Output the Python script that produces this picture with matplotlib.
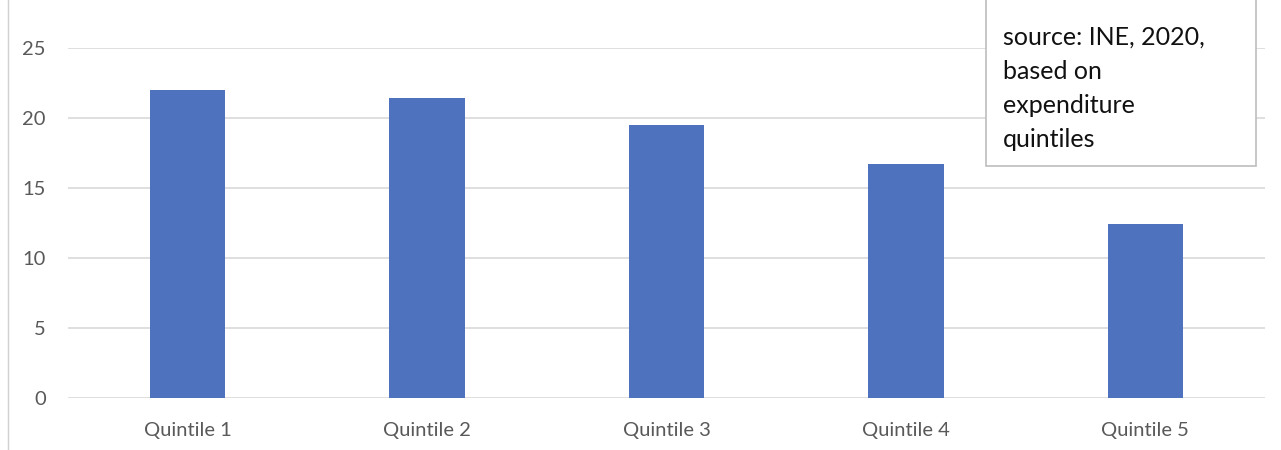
import matplotlib
matplotlib.use('Agg')
import matplotlib.pyplot as plt
from matplotlib.patches import Rectangle
from matplotlib.lines import Line2D

# share of households per expenditure quintile
quintiles = ["Quintile 1", "Quintile 2", "Quintile 3", "Quintile 4", "Quintile 5"]
values = [22.0, 21.4, 19.5, 16.7, 12.4]
yticks = [0, 5, 10, 15, 20, 25]
note = "source: INE, 2020,\nbased on\nexpenditure\nquintiles"

plt.rcParams['font.family'] = ['Lato', 'DejaVu Sans']

W, H = 1281, 450
fig = plt.figure(figsize=(W / 100., H / 100.), dpi=100)
fig.patch.set_facecolor('white')

ax = fig.add_axes([68. / W, 52. / H, (1265. - 68.) / W, 350. / H])
x = range(len(quintiles))
ax.bar(x, values, width=0.315, color='#4F72BE', zorder=3)

ax.set_xlim(-0.5, len(quintiles) - 0.5)
ax.set_ylim(0, 25)
ax.set_yticks(yticks)
ax.set_xticks(list(x))
ax.set_xticklabels(quintiles)
ax.yaxis.grid(True, color='#d9d9d9', linewidth=1.2, zorder=0)
ax.set_axisbelow(True)
for s in ax.spines.values():
    s.set_visible(False)
ax.tick_params(axis='y', length=0, pad=16, labelsize=14.5, labelcolor='#595959')
ax.tick_params(axis='x', length=0, pad=17, labelsize=14.5, labelcolor='#595959')

# thin frame line on the left edge of the chart area
fig.add_artist(Line2D([8. / W, 8. / W], [0, 1], transform=fig.transFigure,
                      color='#d0d0d0', linewidth=1))

# note box in the upper right, running off the top edge
box = Rectangle((986. / W, (H - 166.) / H), (1256. - 986.) / W, 200. / H,
                transform=fig.transFigure, facecolor='white', edgecolor='#bdbdbd',
                linewidth=1.2, zorder=5)
fig.add_artist(box)
fig.text(1003. / W, (H - 26.) / H, note, fontsize=18, color='#111111',
         va='top', ha='left', linespacing=1.58, zorder=6)

fig.savefig('out.png', dpi=100)
